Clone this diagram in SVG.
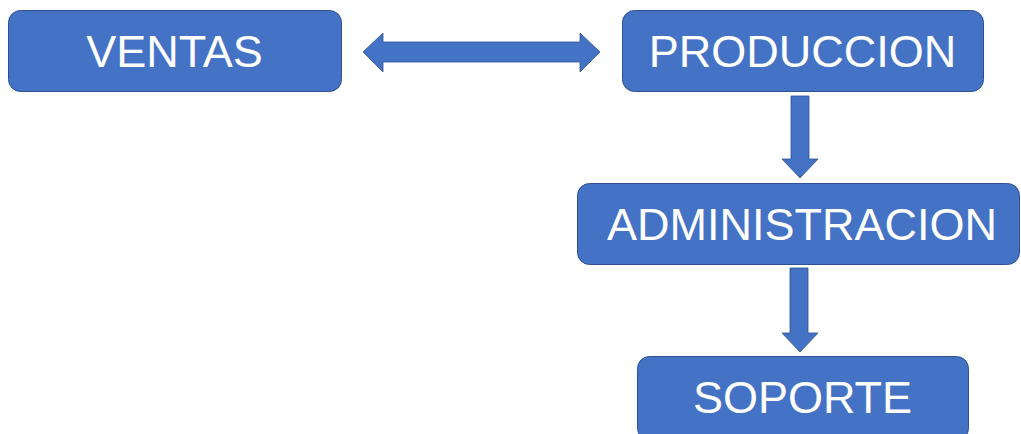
<svg xmlns="http://www.w3.org/2000/svg" width="1021" height="434" viewBox="0 0 1021 434">
<style>
.box{fill:#4472C4;stroke:#2F528F;stroke-width:1}
.lbl{fill:#FFFFFF;font-family:"Liberation Sans",Arial,sans-serif;font-size:45px;text-anchor:middle}
.arr{fill:#4472C4;stroke:#2F528F;stroke-width:0.8}
</style>
<rect width="1021" height="434" fill="#FFFFFF"/>
<g id="connectors">
<path class="arr" d="M363,52 L383,33 L383,42 L580,42 L580,33 L600,52 L580,72 L580,62 L383,62 L383,72 Z"/>
<path class="arr" d="M791,96 L809,96 L809,159 L818,159 L800,178 L782,159 L791,159 Z"/>
<path class="arr" d="M790,268 L808,268 L808,333 L818,333 L800,352 L782,333 L790,333 Z"/>
</g>
<g id="ventas">
<rect class="box" x="8.5" y="10.5" width="333" height="81" rx="12"/>
<text class="lbl" x="174.5" y="67">VENTAS</text>
</g>
<g id="produccion">
<rect class="box" x="622.5" y="10.5" width="361" height="81" rx="12"/>
<text class="lbl" x="802.5" y="67">PRODUCCION</text>
</g>
<g id="administracion">
<rect class="box" x="577.5" y="183.5" width="442" height="81" rx="12"/>
<text class="lbl" x="802" y="240">ADMINISTRACION</text>
</g>
<g id="soporte">
<rect class="box" x="637.5" y="356.5" width="331" height="84" rx="12"/>
<text class="lbl" x="802.5" y="413">SOPORTE</text>
</g>
</svg>
